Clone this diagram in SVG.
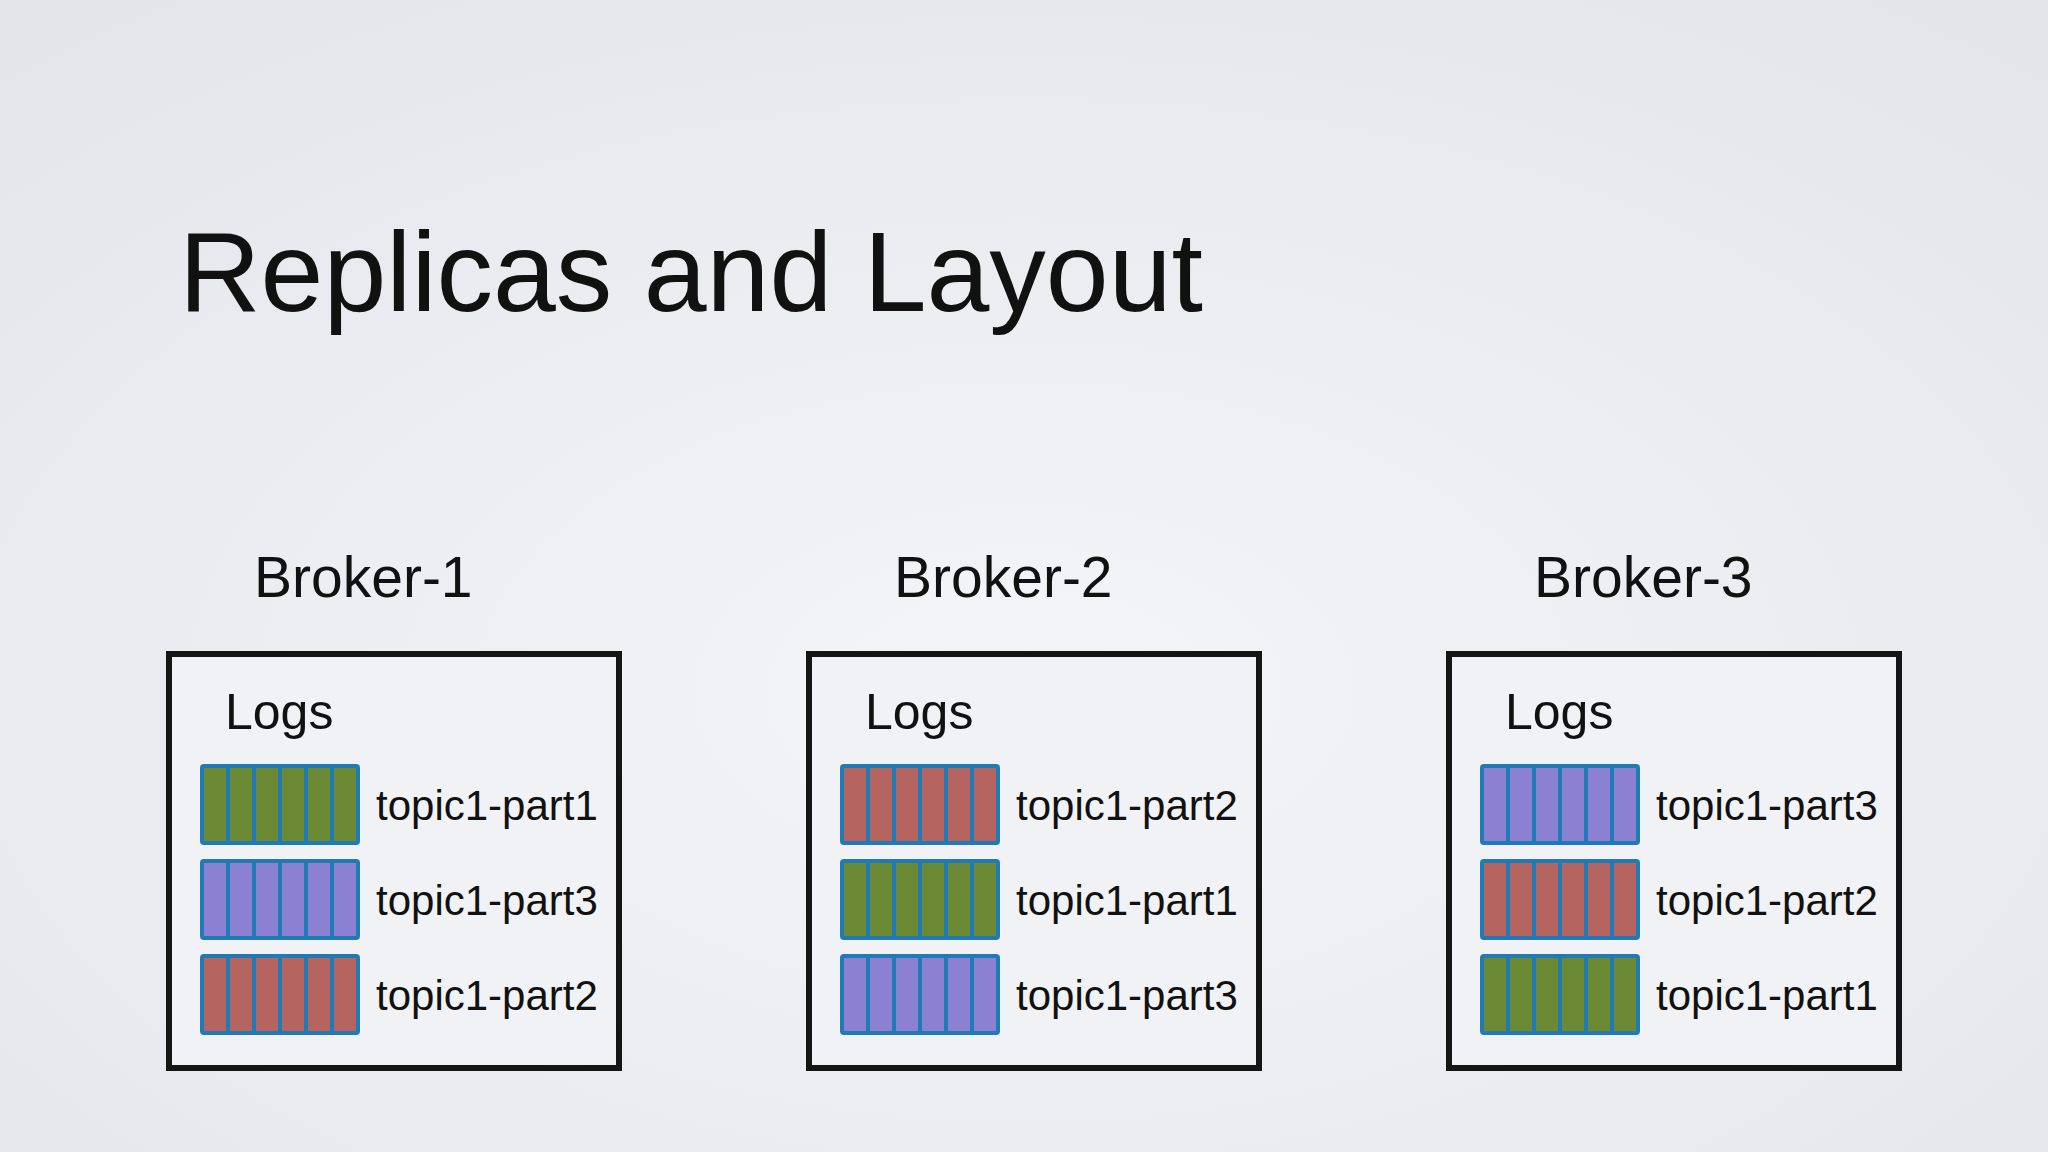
<svg xmlns="http://www.w3.org/2000/svg" width="2048" height="1152" viewBox="0 0 2048 1152">
<defs>
<radialGradient id="bg" cx="0.5" cy="0.6" r="0.8">
<stop offset="0" stop-color="#f4f5f8"/><stop offset="1" stop-color="#e2e4ea"/>
</radialGradient>
</defs>
<style>
text{font-family:"Liberation Sans",Arial,sans-serif;fill:#111}
.t{font-size:42px}.l{font-size:50px}.b{font-size:57px}
.frame{fill:#f1f2f6;stroke:#151515;stroke-width:6}
.bar{stroke:#1f7ab6;stroke-width:4}
.div{stroke:#1f7ab6;stroke-width:4}
.g{fill:#6b8a33}.p{fill:#8b80d2}.r{fill:#b5645f}
</style>
<rect width="2048" height="1152" fill="url(#bg)"/>
<text x="179" y="311" style="font-size:113px">Replicas and Layout</text>
<g id="broker1">
<text class="b" x="254" y="597">Broker-1</text>
<rect class="frame" x="169" y="654" width="450" height="414"/>
<text class="l" x="225" y="729">Logs</text>
<g transform="translate(202,766)"><rect class="bar g" width="156" height="77" rx="2"/><path class="div" d="M26 0V77M52 0V77M78 0V77M104 0V77M130 0V77"/></g>
<text class="t" x="376" y="820">topic1-part1</text>
<g transform="translate(202,861)"><rect class="bar p" width="156" height="77" rx="2"/><path class="div" d="M26 0V77M52 0V77M78 0V77M104 0V77M130 0V77"/></g>
<text class="t" x="376" y="915">topic1-part3</text>
<g transform="translate(202,956)"><rect class="bar r" width="156" height="77" rx="2"/><path class="div" d="M26 0V77M52 0V77M78 0V77M104 0V77M130 0V77"/></g>
<text class="t" x="376" y="1010">topic1-part2</text>
</g>
<g id="broker2" transform="translate(640,0)">
<text class="b" x="254" y="597">Broker-2</text>
<rect class="frame" x="169" y="654" width="450" height="414"/>
<text class="l" x="225" y="729">Logs</text>
<g transform="translate(202,766)"><rect class="bar r" width="156" height="77" rx="2"/><path class="div" d="M26 0V77M52 0V77M78 0V77M104 0V77M130 0V77"/></g>
<text class="t" x="376" y="820">topic1-part2</text>
<g transform="translate(202,861)"><rect class="bar g" width="156" height="77" rx="2"/><path class="div" d="M26 0V77M52 0V77M78 0V77M104 0V77M130 0V77"/></g>
<text class="t" x="376" y="915">topic1-part1</text>
<g transform="translate(202,956)"><rect class="bar p" width="156" height="77" rx="2"/><path class="div" d="M26 0V77M52 0V77M78 0V77M104 0V77M130 0V77"/></g>
<text class="t" x="376" y="1010">topic1-part3</text>
</g>
<g id="broker3" transform="translate(1280,0)">
<text class="b" x="254" y="597">Broker-3</text>
<rect class="frame" x="169" y="654" width="450" height="414"/>
<text class="l" x="225" y="729">Logs</text>
<g transform="translate(202,766)"><rect class="bar p" width="156" height="77" rx="2"/><path class="div" d="M26 0V77M52 0V77M78 0V77M104 0V77M130 0V77"/></g>
<text class="t" x="376" y="820">topic1-part3</text>
<g transform="translate(202,861)"><rect class="bar r" width="156" height="77" rx="2"/><path class="div" d="M26 0V77M52 0V77M78 0V77M104 0V77M130 0V77"/></g>
<text class="t" x="376" y="915">topic1-part2</text>
<g transform="translate(202,956)"><rect class="bar g" width="156" height="77" rx="2"/><path class="div" d="M26 0V77M52 0V77M78 0V77M104 0V77M130 0V77"/></g>
<text class="t" x="376" y="1010">topic1-part1</text>
</g>
<g id="connectors"/>
</svg>
